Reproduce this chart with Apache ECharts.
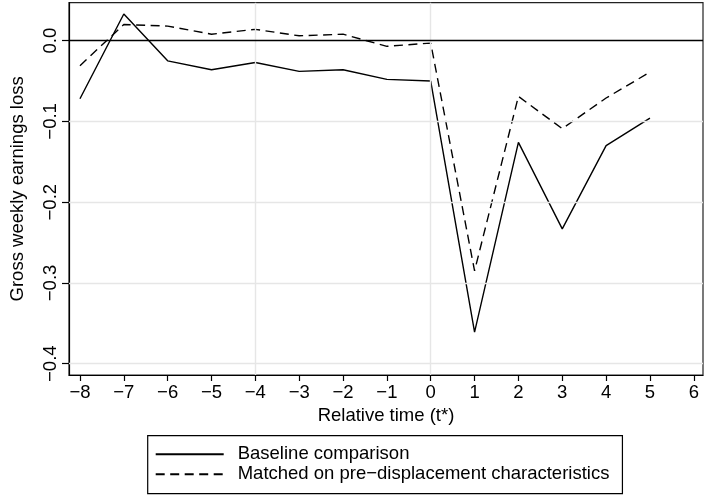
<!DOCTYPE html>
<html>
<head>
<meta charset="utf-8">
<script src="https://cdn.jsdelivr.net/npm/echarts@6/dist/echarts.min.js"></script>
<style>
  html, body { margin: 0; padding: 0; background: #fff; }
  #chart { width: 704px; height: 497px; }
</style>
</head>
<body>
<div id="chart"></div>
<script>
// Relative time (t*) and estimated earnings loss per event period
const relTime = [-8, -7, -6, -5, -4, -3, -2, -1, 0, 1, 2, 3, 4, 5];
const baseline = [-0.072, 0.033, -0.025, -0.036, -0.027, -0.038, -0.036, -0.048, -0.050, -0.361, -0.126, -0.233, -0.130, -0.096];
const matched = [-0.031, 0.020, 0.018, 0.008, 0.014, 0.006, 0.008, -0.007, -0.003, -0.285, -0.069, -0.109, -0.071, -0.039];

// Axis ticks and reference lines
const xTicks = [-8, -7, -6, -5, -4, -3, -2, -1, 0, 1, 2, 3, 4, 5, 6];
const yTicks = [0, -0.1, -0.2, -0.3, -0.4];
const xGrid = [-4, 0];
const yGrid = [-0.1, -0.2, -0.3, -0.4];
const yRef = [0];

const seriesNames = ['Baseline comparison', 'Matched on pre\u2212displacement characteristics'];

const FONT = '"Liberation Sans", Arial, Helvetica, sans-serif';
const FS = 18.5;
const minus = s => String(s).replace('-', '\u2212');

const chart = echarts.init(document.getElementById('chart'), null, { renderer: 'canvas' });

const pairs = (xs, ys) => xs.map((x, i) => [x, ys[i]]);

chart.setOption({
  animation: false,
  backgroundColor: '#ffffff',
  textStyle: { fontFamily: FONT, color: '#000' },
  grid: {
    left: 66.7, top: 2.7, right: 1, bottom: 122,
    show: true, borderColor: '#222', borderWidth: 1.2, backgroundColor: 'transparent'
  },
  xAxis: {
    type: 'value',
    min: -8.25, max: 6.21,
    name: 'Relative time (t*)',
    nameLocation: 'middle',
    nameGap: 28,
    nameTextStyle: { fontFamily: FONT, fontSize: FS, color: '#000' },
    axisLine: { show: true, onZero: false, lineStyle: { color: '#000', width: 1.2 } },
    axisTick: { show: true, length: 6, customValues: xTicks, lineStyle: { color: '#000', width: 1.2 } },
    axisLabel: {
      customValues: xTicks, margin: 8, fontFamily: FONT, fontSize: FS, color: '#000',
      formatter: v => minus(v)
    },
    splitLine: { show: false }
  },
  yAxis: {
    type: 'value',
    min: -0.414, max: 0.047,
    name: 'Gross weekly earnings loss',
    nameLocation: 'middle',
    nameRotate: 90,
    nameGap: 42,
    nameTextStyle: { fontFamily: FONT, fontSize: FS, color: '#000' },
    axisLine: { show: true, onZero: false, lineStyle: { color: '#000', width: 1.2 } },
    axisTick: { show: true, length: 7, customValues: yTicks, lineStyle: { color: '#000', width: 1.2 } },
    axisLabel: {
      customValues: yTicks, rotate: 90, margin: 9, fontFamily: FONT, fontSize: FS, color: '#000',
      formatter: v => minus(Number(v).toFixed(1))
    },
    splitLine: { show: false }
  },
  legend: {
    orient: 'vertical',
    left: 147.7, top: 435.7,
    padding: [9, 13, 10, 7],
    itemWidth: 68, itemHeight: 20, itemGap: 1,
    borderColor: '#000', borderWidth: 1.2,
    selectedMode: false,
    itemStyle: { opacity: 0 },
    textStyle: { fontFamily: FONT, fontSize: FS, color: '#000', padding: [0, 0, 0, 9] },
    data: seriesNames
  },
  series: [
    {
      // reference grid and zero line
      type: 'line', data: [], silent: true, z: 1,
      markLine: {
        silent: true, symbol: 'none', label: { show: false }, animation: false,
        data: [
          ...xGrid.map(v => ({ xAxis: v, lineStyle: { color: '#e6e6e6', width: 1.4, type: 'solid' } })),
          ...yGrid.map(v => ({ yAxis: v, lineStyle: { color: '#e6e6e6', width: 1.4, type: 'solid' } })),
          ...yRef.map(v => ({ yAxis: v, lineStyle: { color: '#000', width: 1.3, type: 'solid' } }))
        ]
      }
    },
    {
      name: seriesNames[0], type: 'line', z: 3,
      data: pairs(relTime, baseline),
      symbol: 'none',
      lineStyle: { color: '#000', width: 1.4, type: 'solid' },
      itemStyle: { color: '#000' }
    },
    {
      name: seriesNames[1], type: 'line', z: 3,
      data: pairs(relTime, matched),
      symbol: 'none',
      lineStyle: { color: '#000', width: 1.4, type: [9, 5.5] },
      itemStyle: { color: '#000' }
    }
  ]
});
</script>
</body>
</html>
